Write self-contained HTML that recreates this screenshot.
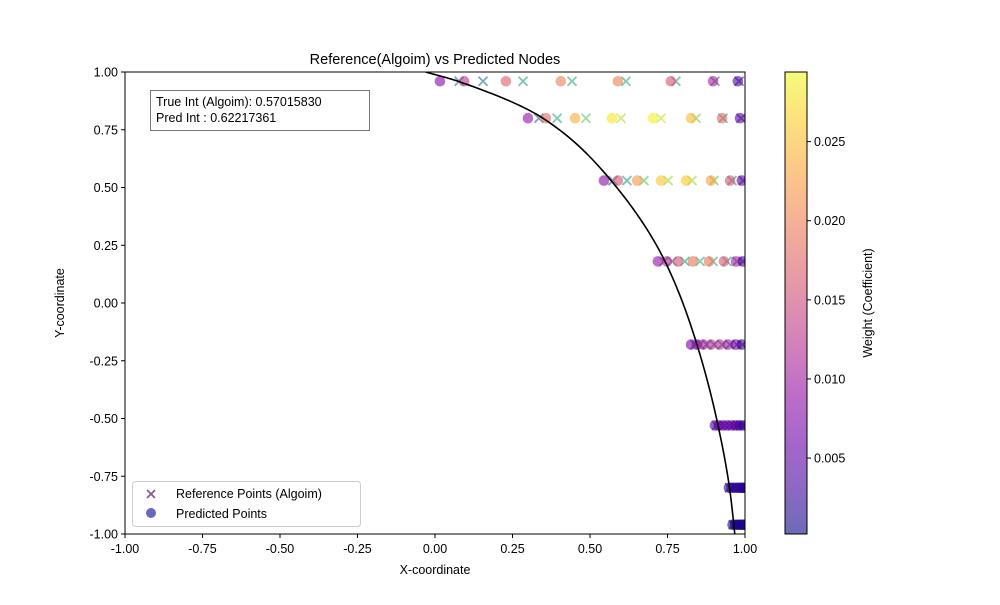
<!DOCTYPE html>
<html><head><meta charset="utf-8"><style>
body{margin:0;background:#fff;}
svg text{font-family:"Liberation Sans","DejaVu Sans",sans-serif;fill:#000;}
</style></head><body>
<svg id="chart" width="1000" height="600" xmlns="http://www.w3.org/2000/svg">
<defs>
<linearGradient id="plasmaGrad" x1="0" y1="1" x2="0" y2="0">
<stop offset="0" stop-color="#0d0887"/><stop offset="0.1" stop-color="#41049d"/><stop offset="0.2" stop-color="#6a00a8"/><stop offset="0.3" stop-color="#8f0da4"/><stop offset="0.4" stop-color="#b12a90"/><stop offset="0.5" stop-color="#cc4778"/><stop offset="0.6" stop-color="#e16462"/><stop offset="0.7" stop-color="#f2844b"/><stop offset="0.8" stop-color="#fca636"/><stop offset="0.9" stop-color="#fcce25"/><stop offset="1" stop-color="#f0f921"/>
</linearGradient>
<clipPath id="plotClip"><rect x="125" y="72" width="620" height="462"/></clipPath>
</defs>
<g id="marks" clip-path="url(#plotClip)"></g>
</svg>
<script>
const rowY = [0.96, 0.80, 0.53, 0.18, -0.18, -0.53, -0.80, -0.96];
const predX = [
 [0.016,0.094,0.229,0.406,0.590,0.761,0.897,0.977],
 [0.300,0.358,0.452,0.571,0.703,0.826,0.926,0.984],
 [0.545,0.590,0.652,0.729,0.810,0.890,0.952,0.990],
 [0.719,0.748,0.784,0.832,0.884,0.932,0.971,0.994],
 [0.826,0.845,0.865,0.890,0.918,0.945,0.970,0.990],
 [0.903,0.915,0.930,0.945,0.960,0.972,0.983,0.995],
 [0.948,0.957,0.966,0.975,0.983,0.990,0.995,0.999],
 [0.960,0.968,0.975,0.982,0.988,0.993,0.997,0.999]];
const predW = [
 [0.008,0.013,0.017,0.020,0.020,0.016,0.011,0.004],
 [0.009,0.018,0.024,0.028,0.029,0.025,0.018,0.005],
 [0.008,0.016,0.022,0.026,0.026,0.023,0.016,0.005],
 [0.009,0.012,0.016,0.019,0.019,0.016,0.011,0.004],
 [0.007,0.009,0.011,0.012,0.012,0.010,0.007,0.003],
 [0.004,0.005,0.006,0.006,0.006,0.005,0.004,0.002],
 [0.002,0.002,0.002,0.002,0.002,0.002,0.002,0.001],
 [0.001,0.001,0.001,0.001,0.001,0.001,0.001,0.001]];
const refX = [
 [0.078,0.155,0.284,0.442,0.616,0.777,0.903,0.981],
 [0.335,0.394,0.487,0.600,0.729,0.842,0.929,0.987],
 [0.574,0.619,0.674,0.752,0.829,0.900,0.958,0.994],
 [0.739,0.765,0.806,0.855,0.897,0.942,0.974,0.994],
 [0.838,0.855,0.876,0.900,0.926,0.951,0.973,0.992],
 [0.908,0.920,0.935,0.950,0.963,0.975,0.986,0.996],
 [0.950,0.959,0.968,0.977,0.985,0.991,0.996,0.999],
 [0.962,0.970,0.977,0.984,0.989,0.994,0.998,0.999]];
const refW = [
 [0.010,0.011,0.017,0.018,0.018,0.017,0.011,0.004],
 [0.009,0.018,0.022,0.026,0.027,0.023,0.017,0.005],
 [0.008,0.017,0.022,0.025,0.025,0.022,0.016,0.005],
 [0.009,0.012,0.017,0.019,0.019,0.017,0.011,0.004],
 [0.006,0.008,0.010,0.011,0.011,0.009,0.006,0.003],
 [0.004,0.005,0.005,0.006,0.005,0.005,0.004,0.002],
 [0.002,0.002,0.002,0.002,0.002,0.002,0.002,0.001],
 [0.001,0.001,0.001,0.001,0.001,0.001,0.001,0.001]];
const curveY = [1.0,0.96,0.8,0.53,0.18,-0.18,-0.53,-0.8,-0.96,-1.0];
const curveX = [-0.03,0.074,0.348,0.568,0.742,0.845,0.913,0.950,0.964,0.967];
const xTicks = [-1,-0.75,-0.5,-0.25,0,0.25,0.5,0.75,1];
const yTicks = [-1,-0.75,-0.5,-0.25,0,0.25,0.5,0.75,1];
const cbTicks = [0.005,0.010,0.015,0.020,0.025];
const wMin = 0.0002, wMax = 0.0294;

const L=125,R=745,T=72,B=534;
const sx = v => L + (v+1)/2*(R-L);
const sy = v => B - (v+1)/2*(B-T);
const cbY = w => B - (w-wMin)/(wMax-wMin)*(B-T);
const NS='http://www.w3.org/2000/svg';
const svg=document.getElementById('chart');
function mk(tag,attrs,parent){const e=document.createElementNS(NS,tag);for(const k in attrs)e.setAttribute(k,attrs[k]);(parent||svg).appendChild(e);return e;}
function lerpMap(stops,t){t=Math.max(0,Math.min(1,t));const n=stops.length-1;const i=Math.min(n-1,Math.floor(t*n));const f=t*n-i;const a=stops[i],b=stops[i+1];
 return 'rgb('+[0,1,2].map(k=>Math.round(a[k]+(b[k]-a[k])*f)).join(',')+')';}
const plasma=[[13,8,135],[65,4,157],[106,0,168],[143,13,164],[177,42,144],[204,71,120],[225,100,98],[242,132,75],[252,166,54],[252,206,37],[240,249,33]];
const viridis=[[68,1,84],[72,40,120],[62,74,137],[49,104,142],[38,130,142],[31,158,137],[53,183,121],[109,205,89],[180,222,44],[253,231,37]];
const norm=w=>(w-wMin)/(wMax-wMin);

const marks=document.getElementById('marks');
rowY.forEach((y,i)=>{refX[i].forEach((x,j)=>{
  const c=lerpMap(viridis,norm(refW[i][j]));const cx=sx(x),cy=sy(y),d=4.5;
  const g=mk('g',{opacity:0.6},marks);
  
  
  mk('line',{x1:cx-d,y1:cy-d,x2:cx+d,y2:cy+d,stroke:c,'stroke-width':1.8},g);
  mk('line',{x1:cx-d,y1:cy+d,x2:cx+d,y2:cy-d,stroke:c,'stroke-width':1.8},g);
});});
rowY.forEach((y,i)=>{predX[i].forEach((x,j)=>{
  const c=mk('circle',{cx:sx(x),cy:sy(y),r:5.3,fill:lerpMap(plasma,norm(predW[i][j])),'fill-opacity':0.6},marks);
  
  
});});
// smooth curve: monotone cubic x(y) evaluated densely (y ascending)
const ys=curveY.slice().reverse(), xs=curveX.slice().reverse();
const n=ys.length, h=[], dl=[];
for(let i=0;i<n-1;i++){h.push(ys[i+1]-ys[i]);dl.push((xs[i+1]-xs[i])/h[i]);}
const m=[dl[0]];
for(let i=1;i<n-1;i++){ if(dl[i-1]*dl[i]<=0)m.push(0); else {const w1=2*h[i]+h[i-1],w2=h[i]+2*h[i-1];m.push((w1+w2)/(w1/dl[i-1]+w2/dl[i]));}}
m.push(dl[n-2]);
const pts=[];
for(let i=0;i<n-1;i++){for(let k=0;k<20;k++){const t=k/20,hh=h[i];
 const h00=2*t*t*t-3*t*t+1,h10=t*t*t-2*t*t+t,h01=-2*t*t*t+3*t*t,h11=t*t*t-t*t;
 const x=h00*xs[i]+h10*hh*m[i]+h01*xs[i+1]+h11*hh*m[i+1];
 pts.push(sx(x).toFixed(2)+','+sy(ys[i]+t*hh).toFixed(2));}}
pts.push(sx(xs[n-1])+','+sy(ys[n-1]));
const cp=mk('polyline',{points:pts.join(' '),fill:'none',stroke:'#000','stroke-width':1.6},marks);


const fr=mk('rect',{x:L,y:T,width:R-L,height:B-T,fill:'none',stroke:'#000','stroke-width':1});


xTicks.forEach(v=>{const x=sx(v);mk('line',{x1:x,y1:B,x2:x,y2:B+4,stroke:'#000'});
 const t=mk('text',{x:x,y:B+19,'text-anchor':'middle','font-size':12.5});t.textContent=v.toFixed(2);
 
 });
yTicks.forEach(v=>{const y=sy(v);mk('line',{x1:L-4,y1:y,x2:L,y2:y,stroke:'#000'});
 const t=mk('text',{x:L-7,y:y+4.5,'text-anchor':'end','font-size':12.5});t.textContent=v.toFixed(2);
 
 });
const cb=mk('rect',{x:785,y:T,width:22,height:B-T,fill:'url(#plasmaGrad)','fill-opacity':0.6});


mk('rect',{x:785,y:T,width:22,height:B-T,fill:'none',stroke:'#000','stroke-width':1});
cbTicks.forEach(v=>{const y=cbY(v);mk('line',{x1:807,y1:y,x2:811,y2:y,stroke:'#000'});
 const t=mk('text',{x:814,y:y+4.5,'font-size':12.5});t.textContent=v.toFixed(3);
 
 });
</script>
<svg width="1000" height="600" style="position:absolute;left:0;top:0" xmlns="http://www.w3.org/2000/svg">
<text x="435" y="64" text-anchor="middle" font-size="14.5">Reference(Algoim) vs Predicted Nodes</text>
<text x="435" y="574" text-anchor="middle" font-size="12.5">X-coordinate</text>
<text x="64" y="303" text-anchor="middle" font-size="12.5" transform="rotate(-90 64 303)">Y-coordinate</text>
<text x="872" y="303" text-anchor="middle" font-size="12.5" transform="rotate(-90 872 303)">Weight (Coefficient)</text>
<g>
<rect x="150.5" y="90.5" width="219" height="40" fill="#fff" stroke="#777" stroke-width="1"/>
<text x="156" y="106" font-size="12.5">True Int (Algoim): 0.57015830</text>
<text x="156" y="122" font-size="12.5">Pred Int : 0.62217361</text>
</g>
<g>
<rect x="132.5" y="481.5" width="228" height="45" rx="3" fill="#fff" fill-opacity="0.8" stroke="#ccc"/>
<g>
<line x1="147" y1="490" x2="155" y2="498" stroke="#8b5a9b" stroke-width="1.8"/><line x1="147" y1="498" x2="155" y2="490" stroke="#8b5a9b" stroke-width="1.8"/>
<text x="176" y="498" font-size="12.5">Reference Points (Algoim)</text></g>
<g>
<circle cx="151" cy="513" r="5" fill="#6a68b8"/>
<text x="176" y="518" font-size="12.5">Predicted Points</text></g>
</g>
</svg>
</body></html>
